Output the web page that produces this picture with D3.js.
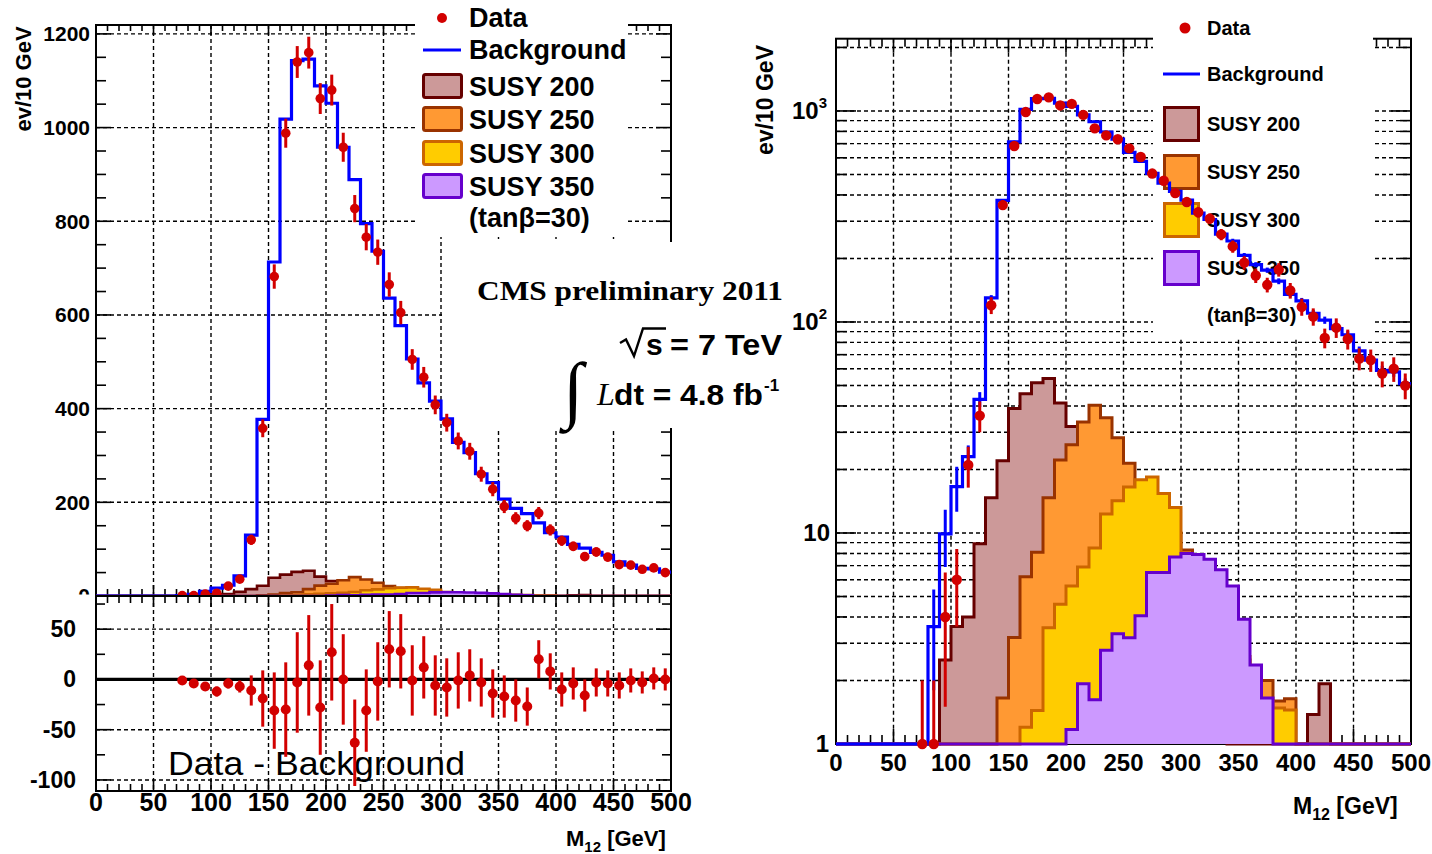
<!DOCTYPE html>
<html><head><meta charset="utf-8">
<script src="https://cdn.jsdelivr.net/npm/d3@7/dist/d3.min.js"></script>
<style>
body{margin:0;background:#fff}
svg{display:block}
text{font-family:"Liberation Sans",Arial,Helvetica,sans-serif;font-weight:bold;fill:#000}
</style>
</head><body>
<svg id="c" width="1432" height="854"></svg>
<script>
// ---------------- DATA ----------------
const binCenters = [5,15,25,35,45,55,65,75,85,95,105,115,125,135,145,155,165,175,185,195,
  205,215,225,235,245,255,265,275,285,295,305,315,325,335,345,355,365,375,385,395,
  405,415,425,435,445,455,465,475,485,495];
const binHalf = 5;
const background = [0,0,0,0,0,0,0,0.6,3.6,9.9,16.6,23,43,130,377,713,1018,1143,1146,1089,
  1052,958,889,795,736,636,577,506,455,416,378,328,306,261,242,207,187,176,156,135,
  126,110,102,93,87,73,66,59,58,51];
const bgErr = [0,0,0,0,0,0,0,0,1.8,3,4,3,3.5,4,6,9,11,12,12,12,
  12,11,11,10,10,9,9,8,8,7,7,7,6,6,6,5,5,5,5,4,
  4,4,4,4,3.5,3.5,3,3,3,3];
const dataVals = [0,0,0,0,0,0,0,1,1,4,6,21,36,120,358,682,988,1140,1160,1062,
  1080,958,827,766,734,665,605,505,467,408,370,331,309,260,228,191,166,150,177,141,
  118,106,84,94,83,67,66,57,60,50];
const dataErr = [0,0,0,0,0,0,0,1,1,2.5,2.4,4.6,6,11,19,26,31,34,34,33,
  33,31,29,28,27,26,25,22,22,20,19,18,18,16,15,14,13,12,13,12,
  11,10,9,10,9,8,8,8,8,7];
const susy200 = [0,0,0,0,0,0,0,0,0,2.5,3.6,4.0,8.9,14.7,22,38.9,45.7,51.5,54,41.3,
  32,25,20,15,11,8,6,4.5,3.5,2.6,2,1.6,1.3,1.1,0.9,0,0,0,0,0,
  0,1.38,1.93,0,0,0,0,0,0,0];
const susy250 = [0,0,0,0,0,0,0,0,0,0,0,0,0,0,1.65,3.2,6.2,8.1,14.7,22.2,
  26.2,33.6,40.3,35.2,28.3,21.4,17,14,12,10,8.3,6.5,5,4,3,2.5,2.2,2.0,1.6,1.64,
  0,0,0,0,0,0,0,0,0,0];
const susy300 = [0,0,0,0,0,0,0,0,0,0,0,0,0,0,0,0,1.2,1.44,3.56,4.6,
  5.6,6.9,8.5,12.3,14.2,16.5,17.9,18.4,15.4,13.2,7.5,6,5,4,3.2,2.6,2.1,1.6,1.48,1.45,
  0,0,0,0,0,0,0,0,0,0];
const susy350 = [0,0,0,0,0,0,0,0,0,0,0,0,0,0,0,0,0,0,0,0,
  1.17,1.93,1.62,2.78,3.33,3.19,4.05,6.5,6.5,7.7,8.0,7.9,7.5,6.7,5.6,3.9,2.37,1.65,0,0,
  0,0,0,0,0,0,0,0,0,0];
const residCenters = [75,85,95,105,115,125,135,145,155,165,175,185,195,205,215,225,235,245,255,265,
  275,285,295,305,315,325,335,345,355,365,375,385,395,405,415,425,435,445,455,465,475,485,495];
const residVals = [-1,-4,-7,-12,-4,-7,-11,-19,-31,-30,-3,14,-28,27,0,-63,-31,-2,30,28,
  -1,12,-6,-8,-1,4,-3,-14,-17,-21,-27,20,8,-10,-4,-16,-3,-4,-6,-1,-3,1,0];
const residErr = [3,3,4,5,5,6,15,28,38,47,50,50,47,48,45,43,41,39,38,37,
  35,31,30,29,28,26,24,24,21,21,19,19,18,17,16,16,14,13,13,12,11,11,11];
const xTickLabels = [0,50,100,150,200,250,300,350,400,450,500];
const xMinorStep = 10;
const yTopLabels = [0,200,400,600,800,1000,1200];
const yTopMinorStep = 50;
const yBotLabels = [50,0,-50,-100];
const yBotMinor = [75,25,-25,-75];
const yLogMajor = [1,10,100,1000];
const yLogMinor = [2,3,4,5,6,7,8,9,20,30,40,50,60,70,80,90,200,300,400,500,600,700,800,900,2000];
const legendNames = ['SUSY 200','SUSY 250','SUSY 300','SUSY 350'];

// ---------------- SETUP ----------------
const svg = d3.select('#c');
const red = '#d20000', blue = '#0000ff';
const sig = [
  {vals:susy200, fill:'#cc9999', stroke:'#660000'},
  {vals:susy250, fill:'#ff9933', stroke:'#993300'},
  {vals:susy300, fill:'#ffcc00', stroke:'#cc6600'},
  {vals:susy350, fill:'#cc99ff', stroke:'#6600cc'}];

const xL = d3.scaleLinear().domain([0,500]).range([96,671]);
const yL = d3.scaleLinear().domain([0,1219]).range([596,25]);
const yB = d3.scaleLinear().domain([-111,83]).range([791,596]);
const xR = d3.scaleLinear().domain([0,500]).range([836,1411]);
const yG = d3.scaleLog().domain([1,2200]).range([744,38.7]).clamp(true);

const defs = svg.append('defs');
function clip(id,x,y,w,h){defs.append('clipPath').attr('id',id).append('rect').attr('x',x).attr('y',y).attr('width',w).attr('height',h);}
clip('cTop',96,25,575,571);
clip('cBot',96,596,575,195);
clip('cLog',830,38.7,587,712);
clip('cZero',0,0,95,594.5);

function steps(vals){const p=[];vals.forEach((v,i)=>{p.push([binCenters[i]-binHalf,v]);p.push([binCenters[i]+binHalf,v]);});return p;}
const gridDash='4,3';
function hline(g,x0,x1,y,dash,w){g.append('line').attr('x1',x0).attr('x2',x1).attr('y1',y).attr('y2',y).attr('stroke','#000').attr('stroke-width',w||1.4).attr('stroke-dasharray',dash||null);}
function vline(g,x,y0,y1,dash,w){g.append('line').attr('x1',x).attr('x2',x).attr('y1',y0).attr('y2',y1).attr('stroke','#000').attr('stroke-width',w||1.4).attr('stroke-dasharray',dash||null);}
function xTicks(g,x,yEdge,dir,minLen,majLen){
  for(let v=0;v<=500;v+=xMinorStep){const maj=xTickLabels.includes(v);vline(g,x(v),yEdge,yEdge+dir*(maj?majLen:minLen),null,1.6);}
}
function txt(g,x,y,s,size,anchor){return g.append('text').attr('x',x).attr('y',y).attr('dy','0.35em').attr('font-size',size).attr('text-anchor',anchor||'start').text(s);}
function drawSignals(g,x,y,fv,base,sw){
  sig.forEach(s=>{
    const pts=steps(s.vals);
    g.append('path').attr('d',d3.area().x(d=>x(d[0])).y0(y(base)).y1(d=>y(fv(d[1])))(pts)).attr('fill',s.fill);
    g.append('path').attr('d',d3.line().x(d=>x(d[0])).y(d=>y(fv(d[1])))(pts)).attr('fill','none').attr('stroke',s.stroke).attr('stroke-width',sw).attr('stroke-linejoin','miter');
  });
}

// ================= LEFT TOP PANEL =================
const gT = svg.append('g');
{
  const gg = gT.append('g').attr('clip-path','url(#cTop)');
  xTickLabels.slice(1,-1).forEach(v=>vline(gg,xL(v),25,596,gridDash));
  yTopLabels.slice(1).forEach(v=>hline(gg,96,671,yL(v),gridDash));
  gT.append('rect').attr('x',96).attr('y',25).attr('width',575).attr('height',571).attr('fill','none').attr('stroke','#000').attr('stroke-width',2);
  xTicks(gT,xL,25,1,6,10);
  xTicks(gT,xL,596,-1,7,11);
  for(let v=0;v<=1200;v+=yTopMinorStep){const maj=yTopLabels.includes(v);const y=yL(v);
    hline(gT,96,96+(maj?15:10),y,null,1.6);hline(gT,671-(maj?15:10),671,y,null,1.6);}
  yTopLabels.slice(1).forEach(v=>txt(gT,90,yL(v),String(v),21,'end'));
  txt(gT,90,yL(0),'0',21,'end').attr('clip-path','url(#cZero)');
  gT.append('text').attr('transform','translate(23,79) rotate(-90)').attr('text-anchor','middle').attr('dy','0.35em').attr('font-size',22).text('ev/10 GeV');
  // white boxes (legend, CMS text)
  gT.append('rect').attr('x',415).attr('y',0).attr('width',213).attr('height',237).attr('fill','#fff');
  gT.append('rect').attr('x',442).attr('y',242).attr('width',353).attr('height',186).attr('fill','#fff');
  // histograms
  const gh = gT.append('g').attr('clip-path','url(#cTop)');
  drawSignals(gh,xL,yL,v=>v,0,2.6);
  gh.append('path').attr('d',d3.line().x(d=>xL(d[0])).y(d=>yL(d[1]))(steps(background))).attr('fill','none').attr('stroke',blue).attr('stroke-width',3.2);
  hline(gT,96,671,596,null,2);
  // data
  const gd = gT.append('g').attr('clip-path','url(#cTop)');
  binCenters.forEach((c,i)=>{ if(dataVals[i]<=0) return;
    gd.append('line').attr('x1',xL(c)).attr('x2',xL(c)).attr('y1',yL(dataVals[i]-dataErr[i])).attr('y2',yL(dataVals[i]+dataErr[i])).attr('stroke',red).attr('stroke-width',3);
    gd.append('circle').attr('cx',xL(c)).attr('cy',yL(dataVals[i])).attr('r',4.8).attr('fill',red);
  });
  // legend
  gT.append('circle').attr('cx',442).attr('cy',18).attr('r',5).attr('fill',red);
  txt(gT,469,18,'Data',27);
  gT.append('line').attr('x1',423).attr('x2',461).attr('y1',50).attr('y2',50).attr('stroke',blue).attr('stroke-width',3.2);
  txt(gT,469,50,'Background',27);
  const ly=[73,106,140,173];
  sig.forEach((s,i)=>{
    gT.append('rect').attr('x',423.5).attr('y',ly[i]+1.5).attr('width',38).attr('height',23).attr('fill',s.fill).attr('stroke',s.stroke).attr('stroke-width',3).attr('rx',2);
    txt(gT,469,ly[i]+13.5,legendNames[i],27);
  });
  txt(gT,469,218,'(tanβ=30)',27);
  // CMS text
  gT.append('text').attr('x',477).attr('y',300).attr('font-size',28).attr('textLength',306).attr('lengthAdjust','spacingAndGlyphs')
    .style('font-family','"Liberation Serif","Times New Roman",serif').text('CMS preliminary 2011');
  gT.append('path').attr('d','M620,343 L626,339.5 L634,356 L643,328.5 L666,328.5').attr('fill','none').attr('stroke','#000').attr('stroke-width',2.4);
  gT.append('text').attr('x',646).attr('y',355).attr('font-size',30).text('s');
  gT.append('text').attr('x',782).attr('y',355).attr('font-size',30).attr('text-anchor','end').attr('textLength',112).attr('lengthAdjust','spacingAndGlyphs').text('= 7 TeV');
  gT.append('text').attr('x',563).attr('y',414).attr('font-size',74).style('font-weight','normal')
    .style('font-family','"Liberation Serif","Times New Roman",serif').text('∫');
  gT.append('text').attr('x',597).attr('y',405).attr('font-size',32).style('font-weight','normal').style('font-style','italic')
    .style('font-family','"Liberation Serif","Times New Roman",serif').text('L');
  gT.append('text').attr('x',614).attr('y',405).attr('font-size',30).attr('textLength',149).attr('lengthAdjust','spacingAndGlyphs').text('dt = 4.8 fb');
  gT.append('text').attr('x',764).attr('y',391).attr('font-size',17).text('-1');
}

// ================= LEFT BOTTOM PANEL =================
const gB = svg.append('g');
{
  const gg = gB.append('g').attr('clip-path','url(#cBot)');
  xTickLabels.slice(1,-1).forEach(v=>vline(gg,xL(v),596,791,gridDash));
  [50,-50,-100].forEach(v=>hline(gg,96,671,yB(v),gridDash));
  hline(gg,96,671,yB(0),null,3.2);
  gB.append('rect').attr('x',96).attr('y',596).attr('width',575).attr('height',195).attr('fill','none').attr('stroke','#000').attr('stroke-width',2);
  xTicks(gB,xL,597,1,6,10);
  xTicks(gB,xL,791,-1,7,11);
  yBotLabels.forEach(v=>{hline(gB,96,111,yB(v),null,1.6);hline(gB,656,671,yB(v),null,1.6);});
  yBotMinor.forEach(v=>{hline(gB,96,105,yB(v),null,1.6);hline(gB,662,671,yB(v),null,1.6);});
  yBotLabels.forEach(v=>txt(gB,76,yB(v),String(v),23,'end'));
  xTickLabels.forEach(v=>txt(gB,xL(v),802,String(v),25,'middle'));
  const t=gB.append('text').attr('x',566).attr('y',838).attr('dy','0.35em').attr('font-size',22);
  t.append('tspan').text('M'); t.append('tspan').attr('font-size',15).attr('dy',6).text('12'); t.append('tspan').attr('dy',-6).text(' [GeV]');
  gB.append('text').attr('x',168).attr('y',775).attr('font-size',33).attr('textLength',297).attr('lengthAdjust','spacingAndGlyphs').style('font-weight','normal').text('Data - Background');
  const gd = gB.append('g').attr('clip-path','url(#cBot)');
  residCenters.forEach((c,i)=>{
    gd.append('line').attr('x1',xL(c)).attr('x2',xL(c)).attr('y1',yB(residVals[i]-residErr[i])).attr('y2',yB(residVals[i]+residErr[i])).attr('stroke',red).attr('stroke-width',3);
    gd.append('circle').attr('cx',xL(c)).attr('cy',yB(residVals[i])).attr('r',5).attr('fill',red);
  });
}

// ================= RIGHT LOG PANEL =================
const gR = svg.append('g');
{
  const gg = gR.append('g');
  xTickLabels.slice(1,-1).forEach(v=>vline(gg,xR(v),38.7,744,gridDash));
  yLogMajor.slice(1).concat(yLogMinor).forEach(v=>hline(gg,836,1411,yG(v),gridDash));
  gR.append('rect').attr('x',836).attr('y',38.7).attr('width',575).attr('height',705.3).attr('fill','none').attr('stroke','#000').attr('stroke-width',2);
  xTicks(gR,xR,38.7,1,8,14);
  xTicks(gR,xR,744,-1,9,15);
  yLogMajor.forEach(v=>{hline(gR,836,856,yG(v),null,1.6);hline(gR,1391,1411,yG(v),null,1.6);});
  yLogMinor.forEach(v=>{hline(gR,836,847,yG(v),null,1.6);hline(gR,1400,1411,yG(v),null,1.6);});
  txt(gR,829,yG(1),'1',24,'end');
  txt(gR,830,yG(10),'10',24,'end');
  [[100,'2'],[1000,'3']].forEach(([v,s])=>{
    const t=gR.append('text').attr('x',827).attr('y',yG(v)).attr('dy','0.35em').attr('font-size',24).attr('text-anchor','end');
    t.append('tspan').text('10'); t.append('tspan').attr('font-size',15).attr('dy',-11).text(s);
  });
  xTickLabels.forEach(v=>txt(gR,xR(v),763,String(v),24,'middle'));
  gR.append('text').attr('transform','translate(765,100) rotate(-90)').attr('text-anchor','middle').attr('dy','0.35em').attr('font-size',23).text('ev/10 GeV');
  const t=gR.append('text').attr('x',1293).attr('y',806).attr('dy','0.35em').attr('font-size',23);
  t.append('tspan').text('M'); t.append('tspan').attr('font-size',16).attr('dy',6).text('12'); t.append('tspan').attr('dy',-6).text(' [GeV]');
  // legend
  gR.append('rect').attr('x',1153).attr('y',0).attr('width',220).attr('height',337).attr('fill','#fff');
  gR.append('circle').attr('cx',1185).attr('cy',28).attr('r',5.5).attr('fill',red);
  txt(gR,1207,28,'Data',20);
  gR.append('line').attr('x1',1163).attr('x2',1200).attr('y1',74).attr('y2',74).attr('stroke',blue).attr('stroke-width',3.2);
  txt(gR,1207,74,'Background',20);
  const ly=[106,154,202,250];
  sig.forEach((s,i)=>{
    gR.append('rect').attr('x',1164.5).attr('y',ly[i]+1.5).attr('width',34).attr('height',33).attr('fill',s.fill).attr('stroke',s.stroke).attr('stroke-width',3);
    txt(gR,1207,ly[i]+18,legendNames[i],20);
  });
  txt(gR,1207,315,'(tanβ=30)',20);
  // histograms
  const gh = gR.append('g').attr('clip-path','url(#cLog)');
  const fv = v=>Math.max(v,1);
  drawSignals(gh,xR,yG,fv,1,3);
  gh.append('path').attr('d',d3.line().x(d=>xR(d[0])).y(d=>yG(fv(d[1])))(steps(background))).attr('fill','none').attr('stroke',blue).attr('stroke-width',3.2);
  binCenters.forEach((c,i)=>{ if(bgErr[i]<=0) return;
    gh.append('line').attr('x1',xR(c)).attr('x2',xR(c)).attr('y1',yG(fv(background[i]-bgErr[i]))).attr('y2',yG(background[i]+bgErr[i])).attr('stroke',blue).attr('stroke-width',3);
  });
  binCenters.forEach((c,i)=>{ if(dataVals[i]<=0) return;
    gh.append('line').attr('x1',xR(c)).attr('x2',xR(c)).attr('y1',yG(fv(dataVals[i]-dataErr[i]))).attr('y2',yG(dataVals[i]+dataErr[i])).attr('stroke',red).attr('stroke-width',3);
    gh.append('circle').attr('cx',xR(c)).attr('cy',yG(dataVals[i])).attr('r',5.2).attr('fill',red);
  });
}
</script>
</body></html>
